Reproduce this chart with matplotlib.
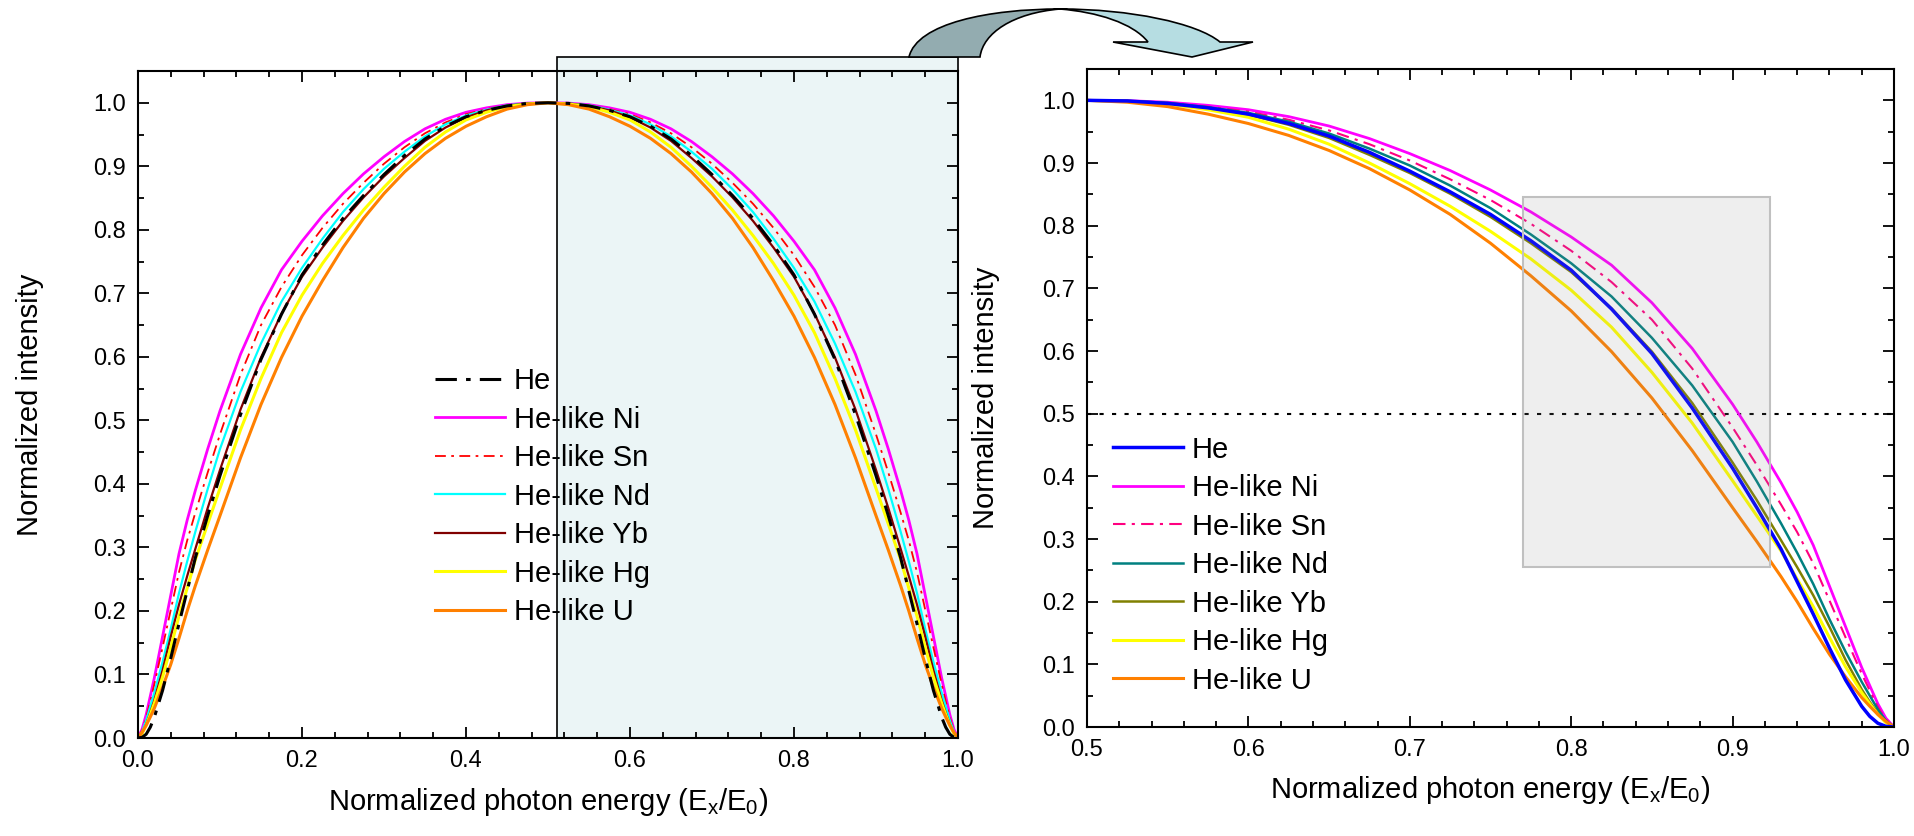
import numpy as np
import matplotlib
matplotlib.use("Agg")
import matplotlib.pyplot as plt
from matplotlib.patches import Rectangle, PathPatch
from matplotlib.path import Path
from matplotlib.ticker import MultipleLocator, FormatStrFormatter

plt.rcParams['font.family'] = ['Liberation Sans', 'DejaVu Sans']
plt.rcParams['mathtext.fontset'] = 'custom'
plt.rcParams['mathtext.rm'] = 'Liberation Sans'
plt.rcParams['mathtext.it'] = 'Liberation Sans:italic'

# normalized photon energy, upper half of the spectrum (spectra are symmetric about 0.5)
energy = [0.5, 0.525, 0.55, 0.575, 0.6, 0.625, 0.65, 0.675, 0.7, 0.725, 0.75, 0.775,
          0.8, 0.825, 0.85, 0.875, 0.9, 0.915, 0.93, 0.94, 0.95, 0.96, 0.97, 0.98,
          0.985, 0.99, 0.995, 1.0]

he    = [1.000, 0.999, 0.995, 0.988, 0.978, 0.963, 0.943, 0.917, 0.887, 0.854, 0.818, 0.776,
         0.729, 0.667, 0.596, 0.509, 0.413, 0.350, 0.284, 0.232, 0.180, 0.126, 0.075, 0.033,
         0.017, 0.006, 0.001, 0.0]
he_ni = [1.000, 0.9995, 0.997, 0.992, 0.985, 0.974, 0.959, 0.939, 0.915, 0.888, 0.857, 0.822,
         0.782, 0.737, 0.677, 0.604, 0.515, 0.455, 0.390, 0.343, 0.290, 0.225, 0.160, 0.095,
         0.066, 0.037, 0.014, 0.0]
he_sn = [1.000, 0.999, 0.996, 0.990, 0.982, 0.969, 0.952, 0.930, 0.904, 0.874, 0.841, 0.803,
         0.760, 0.710, 0.650, 0.572, 0.478, 0.418, 0.355, 0.311, 0.261, 0.202, 0.143, 0.085,
         0.058, 0.032, 0.012, 0.0]
he_nd = [1.000, 0.999, 0.996, 0.989, 0.980, 0.966, 0.947, 0.923, 0.896, 0.864, 0.828, 0.786,
         0.740, 0.687, 0.621, 0.545, 0.455, 0.392, 0.325, 0.278, 0.228, 0.172, 0.120, 0.072,
         0.050, 0.028, 0.010, 0.0]
he_yb = [1.000, 0.999, 0.995, 0.988, 0.977, 0.961, 0.940, 0.913, 0.884, 0.851, 0.814, 0.772,
         0.726, 0.668, 0.599, 0.517, 0.422, 0.362, 0.298, 0.255, 0.210, 0.160, 0.107, 0.060,
         0.040, 0.022, 0.007, 0.0]
he_hg = [1.000, 0.998, 0.994, 0.985, 0.973, 0.954, 0.930, 0.900, 0.867, 0.831, 0.791, 0.747,
         0.697, 0.638, 0.566, 0.485, 0.393, 0.337, 0.281, 0.236, 0.192, 0.143, 0.096, 0.055,
         0.037, 0.020, 0.007, 0.0]
he_u  = [1.000, 0.997, 0.990, 0.978, 0.963, 0.944, 0.920, 0.891, 0.857, 0.818, 0.772, 0.720,
         0.664, 0.599, 0.525, 0.441, 0.350, 0.296, 0.240, 0.200, 0.157, 0.116, 0.080, 0.047,
         0.033, 0.020, 0.009, 0.0]

labels = ['He', 'He-like Ni', 'He-like Sn', 'He-like Nd', 'He-like Yb', 'He-like Hg', 'He-like U']
series = [he, he_ni, he_sn, he_nd, he_yb, he_hg, he_u]

# highlighted regions
zoom_span = (0.511, 1.0)      # shaded part of left panel
box_x = (0.770, 0.9232)       # grey box in right panel
box_y = (0.256, 0.8455)
half_max = 0.5

left_styles = [
    dict(color='black', lw=2.2, dashes=(7, 3, 1.5, 3), zorder=3),
    dict(color='#FF00FF', lw=2.0),
    dict(color='#FF0000', lw=1.3, dashes=(6, 3, 1.5, 3)),
    dict(color='#00FFFF', lw=1.6),
    dict(color='#800000', lw=1.6),
    dict(color='#FFFF00', lw=2.2),
    dict(color='#FF8000', lw=2.2),
]
right_styles = [
    dict(color='#0000FF', lw=2.5, zorder=2.5),
    dict(color='#FF00FF', lw=2.0),
    dict(color='#FF0080', lw=1.5, dashes=(6, 3, 1.5, 3)),
    dict(color='#008080', lw=1.8),
    dict(color='#808000', lw=1.8),
    dict(color='#FFFF00', lw=2.2),
    dict(color='#FF8000', lw=2.2),
]


def mirror(v):
    v = np.asarray(v)
    return np.concatenate([v[::-1], v[1:]])


x_half = np.asarray(energy)
x_full = np.concatenate([1 - x_half[::-1], x_half[1:]])


def style_axes(ax, major_x, minor_x):
    ax.xaxis.set_major_locator(MultipleLocator(major_x))
    ax.xaxis.set_minor_locator(MultipleLocator(minor_x))
    ax.yaxis.set_major_locator(MultipleLocator(0.1))
    ax.yaxis.set_minor_locator(MultipleLocator(0.05))
    ax.xaxis.set_major_formatter(FormatStrFormatter('%.1f'))
    ax.yaxis.set_major_formatter(FormatStrFormatter('%.1f'))
    ax.tick_params(which='both', direction='in', top=True, right=True, width=1.3, labelsize=17)
    ax.tick_params(which='major', length=8, pad=8.5)
    ax.tick_params(which='minor', length=4.5)
    for s in ax.spines.values():
        s.set_linewidth(1.5)


xlab = 'Normalized photon energy (E$_\\mathregular{x}$/E$_\\mathregular{0}$)'
leg_kw = dict(loc='upper left', frameon=False, fontsize=21, handlelength=2.4,
              handletextpad=0.3, labelspacing=0.36, borderpad=0, borderaxespad=0)

fig = plt.figure(figsize=(19.15, 8.36), dpi=100)

# ---- left panel: full spectrum
ax1 = fig.add_axes([0.07206, 0.11722, 0.42820, 0.79785])
ax1.add_patch(Rectangle((zoom_span[0], 0), zoom_span[1] - zoom_span[0], 1.072,
                        facecolor='#EBF5F6', edgecolor='black', lw=1.2,
                        clip_on=False, zorder=0.5))
handles = []
for y, st in zip(series, left_styles):
    h, = ax1.plot(x_full, mirror(y), **st)
    handles.append(h)
ax1.set_xlim(0, 1.0)
ax1.set_ylim(0, 1.05)
style_axes(ax1, 0.2, 0.04)
ax1.set_xlabel(xlab, fontsize=21)
ax1.set_ylabel('Normalized intensity', fontsize=21)
ax1.xaxis.set_label_coords(0.5, -0.072)
ax1.yaxis.set_label_coords(-0.115, 0.5)
ax1.legend(handles, labels, bbox_to_anchor=(0.362, 0.556), **leg_kw)

# ---- right panel: zoom on upper half
ax2 = fig.add_axes([0.56762, 0.13038, 0.42141, 0.78708])
handles = []
for y, st in zip(series, right_styles):
    h, = ax2.plot(x_half, y, **st)
    handles.append(h)
ax2.axhline(half_max, color='black', lw=1.5, dashes=(2, 4), zorder=1.5)
ax2.add_patch(Rectangle((box_x[0], box_y[0]), box_x[1] - box_x[0], box_y[1] - box_y[0],
                        facecolor=(0.55, 0.55, 0.55, 0.14), edgecolor='#C0C0C0',
                        lw=1.5, zorder=4))
ax2.set_xlim(0.5, 1.0)
ax2.set_ylim(0, 1.05)
style_axes(ax2, 0.1, 0.02)
ax2.set_xlabel(xlab, fontsize=21)
ax2.set_ylabel('Normalized intensity', fontsize=21)
ax2.xaxis.set_label_coords(0.5, -0.071)
ax2.yaxis.set_label_coords(-0.108, 0.5)
ax2.legend(handles, labels, bbox_to_anchor=(0.032, 0.443), **leg_kw)

# ---- curved arrow between the panels (figure pixel coordinates)
ov = fig.add_axes([0, 0, 1, 1], zorder=10)
ov.set_xlim(0, 1915)
ov.set_ylim(836, 0)
ov.axis('off')
M, C, L, Z = Path.MOVETO, Path.CURVE4, Path.LINETO, Path.CLOSEPOLY
back = Path([(909, 57), (917, 23), (990, 9), (1060, 9),
             (1013, 13), (983, 33), (980, 57), (909, 57)],
            [M, C, C, C, C, C, C, Z])
front = Path([(1060, 9), (1130, 9), (1197, 23), (1220, 42),
              (1253, 42), (1192, 57), (1113, 42), (1148, 42),
              (1133, 23), (1097, 12), (1060, 9), (1060, 9)],
             [M, C, C, C, L, L, L, L, C, C, C, Z])
ov.add_patch(PathPatch(back, facecolor='#93ACB0', edgecolor='black', lw=1.2))
ov.add_patch(PathPatch(front, facecolor='#B6DDE2', edgecolor='black', lw=1.2))

fig.savefig('out.png', dpi=100)
